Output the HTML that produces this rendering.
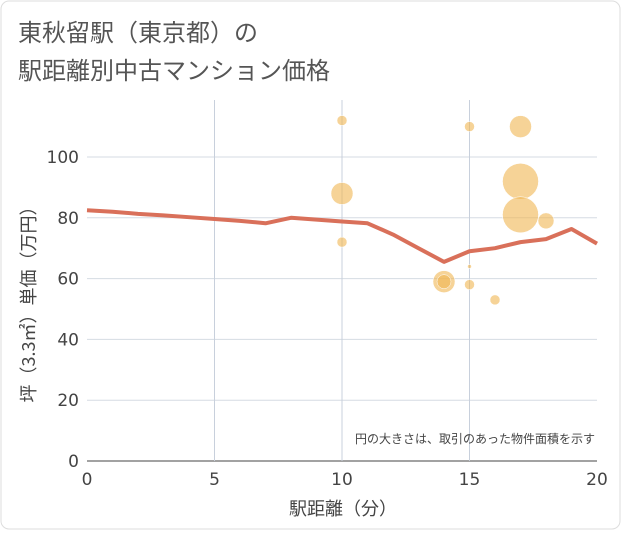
<!DOCTYPE html>
<html><head><meta charset="utf-8"><style>
body{margin:0;background:#fff}
svg text{font-family:"DejaVu Sans","Noto Sans CJK JP",sans-serif}
</style></head><body>
<svg width="621" height="530">
<rect x="1" y="1" width="619" height="528" rx="8" fill="#fff" stroke="#ddd"/>
<text x="18" y="41" font-size="24" fill="#555" style="font-family:'Noto Sans CJK JP',sans-serif">東秋留駅（東京都）の</text>
<text x="18" y="79" font-size="24" fill="#555" style="font-family:'Noto Sans CJK JP',sans-serif">駅距離別中古マンション価格</text>
<g id="grid"></g><g id="marks"></g><g id="axes"></g>
<text x="595" y="443" font-size="12" fill="#444" text-anchor="end" style="font-family:'Noto Sans CJK JP',sans-serif">円の大きさは、取引のあった物件面積を示す</text>
<text x="343" y="515" font-size="18" fill="#444" text-anchor="middle" style="font-family:'Noto Sans CJK JP',sans-serif">駅距離（分）</text>
<text transform="translate(35,300) rotate(-90)" font-size="18" fill="#444" text-anchor="middle" style="font-family:'Noto Sans CJK JP',sans-serif">坪（3.3㎡）単価（万円）</text>
</svg>
<script>
const xTicks=[0,5,10,15,20];
const yTicks=[0,20,40,60,80,100];
const lineX=[0,1,2,3,4,5,6,7,8,9,10,11,12,13,14,15,16,17,18,19,20];
const lineY=[82.5,82,81.3,80.8,80.2,79.6,79,78.2,80,79.4,78.8,78.2,74.5,70,65.5,69,70,72,73,76.3,71.5];
const bubX=[10,10,10,14,14,15,15,15,16,17,17,17,18];
const bubY=[112,88,72,59,59,110,64,58,53,110,92,81,79];
const bubR=[5,11,5,11,7,5,2,5,5,11,18,18,8];
const NS="http://www.w3.org/2000/svg";
const sx=v=>87+v*25.5, sy=v=>461-v*3.04;
const grid=document.getElementById('grid'),marks=document.getElementById('marks'),axes=document.getElementById('axes');
function mk(tag,attrs,parent){const e=document.createElementNS(NS,tag);for(const k in attrs)e.setAttribute(k,attrs[k]);parent.appendChild(e);return e;}
yTicks.forEach(t=>{
 const l=mk('line',{x1:87,x2:597,y1:sy(t),y2:sy(t),stroke:t===0?'#444':'#d5dbe3','stroke-width':1},grid);
 
 
 const tx=mk('text',{x:79,y:sy(t)+6,'font-size':17,fill:'#444','text-anchor':'end'},axes);
 tx.textContent=t;
 
 
});
xTicks.forEach(t=>{
 if(t>0&&t<20){const l=mk('line',{x1:sx(t),x2:sx(t),y1:100,y2:461,stroke:'#c8d0dc','stroke-width':1},grid);
 
 }
 const tx=mk('text',{x:sx(t),y:485,'font-size':17,fill:'#444','text-anchor':'middle'},axes);
 tx.textContent=t;
 
 
});
bubX.forEach((x,i)=>{
 const c=mk('circle',{cx:sx(x),cy:sy(bubY[i]),r:bubR[i],fill:'#f0b552','fill-opacity':0.6,stroke:'#fff','stroke-width':0.5},marks);
 
 
});
const p=mk('polyline',{points:lineX.map((x,i)=>sx(x)+','+sy(lineY[i])).join(' '),fill:'none',stroke:'#d9705a','stroke-width':4,'stroke-linejoin':'round'},marks);


</script>
</body></html>
